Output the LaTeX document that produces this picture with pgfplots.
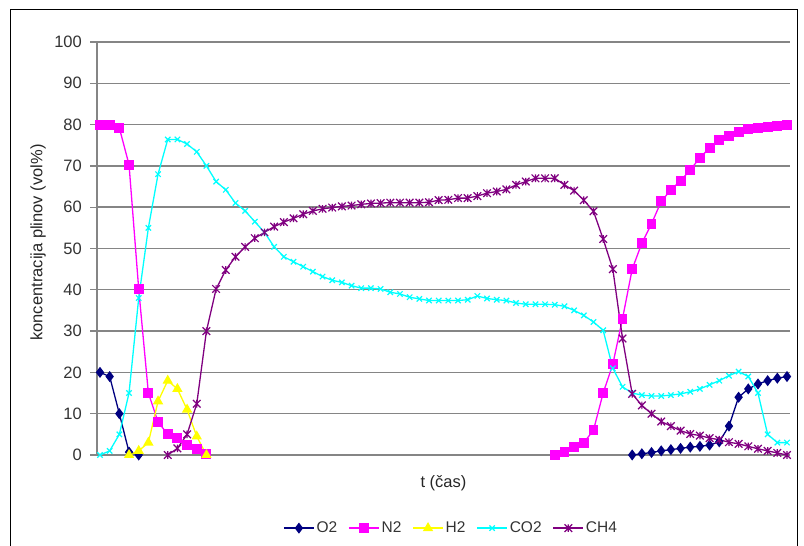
\documentclass[border=0pt]{standalone}
\usepackage{pgfplots}
\usepackage{pgfplotstable}
\pgfplotsset{compat=1.18}
\usepackage{fontspec}
\setmainfont{Liberation Sans}
\definecolor{cO2}{HTML}{000080}
\definecolor{cN2}{HTML}{FF00FF}
\definecolor{cH2}{HTML}{FFFF00}
\definecolor{cCO2}{HTML}{00FFFF}
\definecolor{cCH4}{HTML}{800080}
\definecolor{gridc}{HTML}{858585}
\pgfdeclareplotmark{xbar}{%
  \pgfpathmoveto{\pgfqpoint{-\pgfplotmarksize}{-\pgfplotmarksize}}%
  \pgfpathlineto{\pgfqpoint{\pgfplotmarksize}{\pgfplotmarksize}}%
  \pgfpathmoveto{\pgfqpoint{-\pgfplotmarksize}{\pgfplotmarksize}}%
  \pgfpathlineto{\pgfqpoint{\pgfplotmarksize}{-\pgfplotmarksize}}%
  \pgfpathmoveto{\pgfqpoint{0pt}{-\pgfplotmarksize}}%
  \pgfpathlineto{\pgfqpoint{0pt}{\pgfplotmarksize}}%
  \pgfusepathqstroke}
\pgfplotstableread{
i O2 N2 H2 CO2 CH4
0 20 80 nan 0 nan
1 19 80 nan 1 nan
2 10 79.2 nan 5 nan
3 0.7 70.3 0 15 nan
4 0 40.2 1 38 nan
5 nan 15 3 55 nan
6 nan 8 13 68 nan
7 nan 5 18 76.4 0
8 nan 4.2 16 76.4 1.6
9 nan 2.5 11 75.3 5
10 nan 1.5 4.5 73.4 12.4
11 nan 0.3 0 70 30
12 nan nan nan 66.2 40.2
13 nan nan nan 64.2 44.8
14 nan nan nan 61 48
15 nan nan nan 59.1 50.4
16 nan nan nan 56.5 52.5
17 nan nan nan 53.9 53.9
18 nan nan nan 50.4 55.3
19 nan nan nan 48 56.4
20 nan nan nan 46.8 57.3
21 nan nan nan 45.6 58.3
22 nan nan nan 44.4 59.1
23 nan nan nan 43.2 59.6
24 nan nan nan 42.3 59.9
25 nan nan nan 41.8 60.2
26 nan nan nan 41 60.4
27 nan nan nan 40.4 60.7
28 nan nan nan 40.4 60.9
29 nan nan nan 40.2 61
30 nan nan nan 39.4 61.1
31 nan nan nan 39 61.1
32 nan nan nan 38.2 61.1
33 nan nan nan 37.8 61.1
34 nan nan nan 37.4 61.2
35 nan nan nan 37.4 61.7
36 nan nan nan 37.4 61.8
37 nan nan nan 37.4 62.2
38 nan nan nan 37.6 62.2
39 nan nan nan 38.5 62.7
40 nan nan nan 37.9 63.4
41 nan nan nan 37.6 63.8
42 nan nan nan 37.4 64.3
43 nan nan nan 36.8 65.4
44 nan nan nan 36.5 66.2
45 nan nan nan 36.5 67
46 nan nan nan 36.5 67
47 nan 0 nan 36.4 67
48 nan 0.8 nan 36 65.4
49 nan 2 nan 35 64
50 nan 3 nan 33.8 61.7
51 nan 6 nan 32.2 59
52 nan 15 nan 30.2 52.3
53 nan 22 nan 21 45
54 nan 33 nan 16.5 28.2
55 0 45 nan 15 14.8
56 0.3 51.3 nan 14.5 12
57 0.6 56 nan 14.3 10
58 1 61.4 nan 14.3 8.1
59 1.3 64.2 nan 14.5 7
60 1.6 66.4 nan 14.8 5.9
61 1.9 69 nan 15.3 5.1
62 2.1 72 nan 16 4.7
63 2.4 74.3 nan 17 4.1
64 3.2 76.3 nan 18 3.7
65 7 77.3 nan 19.2 3.1
66 14 78.3 nan 20.2 2.7
67 16 78.9 nan 19 2.1
68 17.2 79.2 nan 15 1.5
69 18 79.5 nan 5 1
70 18.6 79.7 nan 3 0.5
71 19 79.8 nan 3 0
}\data
\begin{document}
\begin{tikzpicture}[x=1pt,y=1pt]
\useasboundingbox (0,0) rectangle (804,546);
\draw[line width=1pt,black] (10,-20) rectangle (797,536);
\begin{axis}[
  at={(97pt,91pt)}, anchor=south west,
  scale only axis, width=693pt, height=413pt,
  xmin=-0.31, xmax=71.31, ymin=0, ymax=100,
  xtick=\empty,
  ytick={0,10,...,100},
  axis x line*=bottom, axis y line*=left,
  axis line style={gridc, line width=1.3pt, -},
  ymajorgrids,
  major grid style={gridc, line width=1.4pt},
  tick align=outside,
  major tick length=7pt,
  tick style={gridc, line width=1.3pt},
  /pgf/number format/assume math mode=true,
  tick label style={font=\fontsize{16.5}{19}\selectfont, color=black!80},
  yticklabel style={inner sep=0pt, xshift=-8pt},
  unbounded coords=jump,
  clip=false,
  ylabel={koncentracija plinov (vol\%)},
  ylabel style={font=\fontsize{16.5}{19}\selectfont, color=black!85, at={(axis description cs:-0.0851,0.5145)}, anchor=center, rotate=0},
  xlabel={t (čas)},
  xlabel style={font=\fontsize{16.5}{19}\selectfont, color=black!85, at={(axis description cs:0.5,-0.068)}, anchor=center},
  legend columns=5,
  legend style={draw=none, fill=none, font=\fontsize{15.5}{18}\selectfont, text=black!80,
    at={(axis description cs:0.511,-0.177)}, anchor=center,
    /tikz/every even column/.append style={column sep=9pt}},
  legend image code/.code={\draw[mark repeat=2,mark phase=2] plot coordinates {(0pt,0pt) (15pt,0pt) (30pt,0pt)};},
  every axis plot/.append style={line width=1.3pt},
]
\addplot[cO2, mark=diamond*, mark size=4.5pt, mark options={solid, fill=cO2}] table[x=i,y=O2]{\data};
\addlegendentry{O2}
\addplot[cN2, mark=square*, mark size=4.3pt, mark options={solid, fill=cN2}] table[x=i,y=N2]{\data};
\addlegendentry{N2}
\addplot[cH2, mark=triangle*, mark size=4.7pt, mark options={solid, fill=cH2}] table[x=i,y=H2]{\data};
\addlegendentry{H2}
\addplot[cCO2, mark=x, mark size=3.8pt, mark options={solid, line width=1.2pt}] table[x=i,y=CO2]{\data};
\addlegendentry{CO2}
\addplot[cCH4, mark=xbar, mark size=3.8pt, mark options={solid, line width=1.2pt}] table[x=i,y=CH4]{\data};
\addlegendentry{CH4}
\end{axis}
\end{tikzpicture}
\end{document}
